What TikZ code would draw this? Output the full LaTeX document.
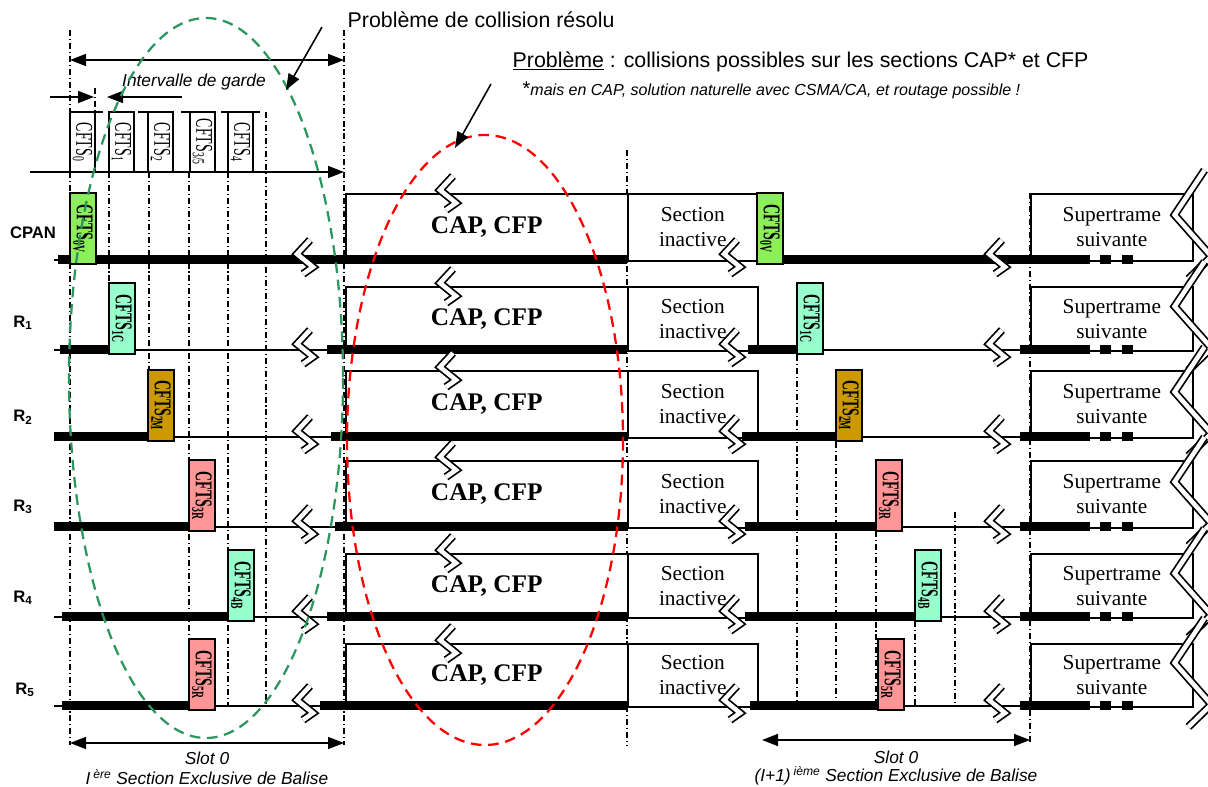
\documentclass[tikz,border=0pt]{standalone}
\usepackage{fontspec}
\setmainfont{Liberation Serif}
\setsansfont{Liberation Sans}
\usepackage{graphicx}
\usetikzlibrary{arrows.meta, positioning, calc}
\definecolor{cpgreen}{RGB}{140, 238, 90}
\definecolor{cpaqua}{RGB}{150, 255, 204}
\definecolor{cpgold}{RGB}{204, 153, 0}
\definecolor{cppink}{RGB}{255, 150, 150}
\definecolor{ovgreen}{RGB}{45, 150, 95}
\newcommand{\slotlab}[1]{\scalebox{0.58}[1]{CFTS\textsubscript{#1}}}

\begin{document}
\begin{tikzpicture}[
    x=0.75pt, y=-0.75pt,
    guide/.style={line width=0.9pt, dash pattern=on 4.5pt off 2.2pt on 0.8pt off 2.2pt},
    base/.style={line width=1pt},
    bar/.style={line width=6.75pt},
    phase/.style={draw, line width=1.2pt, fill=white, anchor=north west, inner sep=0pt,
                  align=center, font=\fontsize{16}{18.75}\selectfont},
    slotbox/.style={draw, line width=1pt, rotate=-90, inner sep=0pt,
                    minimum width=53.25pt, minimum height=19.5pt,
                    font=\bfseries\fontsize{18}{18}\selectfont},
    topbox/.style={draw, line width=1pt, fill=white, rotate=-90, inner sep=0pt,
                   minimum width=45pt, minimum height=18.75pt,
                   font=\fontsize{18}{18}\selectfont},
    rowlab/.style={font=\sffamily\bfseries\fontsize{12.5}{15}\selectfont},
    note/.style={font=\sffamily\itshape\fontsize{13}{16}\selectfont},
    title/.style={anchor=west, font=\sffamily\fontsize{16}{19}\selectfont},
    arr/.style={-{Triangle[length=12pt, width=9pt]}, line width=1.2pt},
    darr/.style={{Triangle[length=12pt, width=9pt]}-{Triangle[length=12pt, width=9pt]}, line width=1.2pt},
    oval/.style={line width=1.7pt, dash pattern=on 8pt off 5pt},
    brk/.pic={
        \draw[line width=6pt] (5,-17) -- (-8,-3) -- (8,10) -- (-2,17);
        \draw[white, line width=3.4pt] (5,-17) -- (-8,-3) -- (8,10) -- (-2,17);
    }
]
    \useasboundingbox (0,0) rectangle (1208,787);

    % guides
    \foreach \x/\a/\b in {70/30/745, 344/30/745, 95/88/112, 109/172/283, 149/172/369,
        189/172/706, 228/172/706, 266/112/706, 627/150/745, 797/355/706, 836/442/706,
        876/531/706, 915/621/706, 955/512/706, 1030/193/745}
        \draw[guide] (\x,\a) -- (\x,\b);

    % rows
    \foreach \y in {260, 350, 437, 527, 617, 706}
        \draw[base] (54,\y) -- (1192,\y);

    \foreach \y/\t/\n in {260/193/0, 350/286/1, 437/370/2, 527/460/3, 617/553/4, 706/643/5}{
        \node[phase, minimum width=211.5pt, minimum height={(\y-\t)*0.75pt},
              font=\bfseries\fontsize{19}{22}\selectfont] (cap\n) at (345,\t) {CAP, CFP};
        \node[phase, minimum width=97.5pt, minimum height={(\y-\t)*0.75pt}] (ina\n) at (627,\t) {Section\\inactive};
        \node[phase, minimum width=121.5pt, minimum height={(\y-\t)*0.75pt}] (sup\n) at (1030,\t) {Supertrame\\suivante};
    }

    % busy periods
    \draw[bar] (58,260) -- (627,260);
    \draw[bar] (60,350) -- (135,350);  \draw[bar] (327,350) -- (627,350);
    \draw[bar] (54,437) -- (174,437);  \draw[bar] (331,437) -- (627,437);
    \draw[bar] (54,527) -- (215,527);  \draw[bar] (335,527) -- (627,527);
    \draw[bar] (62,617) -- (254,617);  \draw[bar] (327,617) -- (627,617);
    \draw[bar] (62,706) -- (215,706);  \draw[bar] (320,706) -- (627,706);
    \draw[bar] (758,260) -- (1090,260);
    \draw[bar] (748,350) -- (823,350);
    \draw[bar] (742,437) -- (862,437);
    \draw[bar] (745,527) -- (903,527);
    \draw[bar] (745,617) -- (941,617);
    \draw[bar] (750,706) -- (904,706);
    \foreach \y in {350, 437, 527, 617, 706}
        \draw[bar] (1020,\y) -- (1090,\y);
    \foreach \y in {260, 350, 437, 527, 617, 706}{
        \draw[bar] (1100,\y) -- (1111,\y);
        \draw[bar] (1122,\y) -- (1133,\y);
    }

    % CFTS slots
    \foreach \x/\y/\c/\s/\n in {70/260/cpgreen/0V/l0, 109/350/cpaqua/1C/l1, 148/437/cpgold/2M/l2,
        189/527/cppink/3R/l3, 228/617/cpaqua/4B/l4, 189/706/cppink/5R/l5,
        757/260/cpgreen/0V/r0, 797/350/cpaqua/1C/r1, 836/437/cpgold/2M/r2,
        876/527/cppink/3R/r3, 915/617/cpaqua/4B/r4, 878/706/cppink/5R/r5}
        \node[slotbox, fill=\c] (cfts\n) at (\x+13,\y-31.5) {\slotlab{\s}};

    \foreach \x/\s/\n in {70/0/0, 109/1/1, 148/2/2, 190/{3/5}/3, 228/4/4}
        \node[topbox] (top\n) at (\x+12.5,142) {\slotlab{\s}};
    \foreach \a/\b in {95/103, 138/148, 181/190, 221/228, 254/260}
        \draw[line width=1pt] (\a,112) -- (\b,112);

    % breaks
    \foreach \y/\t in {260/193, 350/286, 437/370, 527/460, 617/553, 706/643}{
        \pic at (305,\y-3) {brk};
        \pic at (448,\t) {brk};
        \pic at (732,\y-3) {brk};
        \pic at (997,\y-3) {brk};
        \pic[xscale=2.3, yscale=3.2] at (1193,\t/2+\y/2-2) {brk};
    }

    % row labels
    \node[rowlab] (cpan) at (33,233) {CPAN};
    \node[rowlab] (r1) at (23,323) {R\textsubscript{1}};
    \node[rowlab] (r2) at (23,417) {R\textsubscript{2}};
    \node[rowlab] (r3) at (23,507) {R\textsubscript{3}};
    \node[rowlab] (r4) at (23,598) {R\textsubscript{4}};
    \node[rowlab] (r5) at (25,690) {R\textsubscript{5}};

    % time axis and intervals
    \coordinate (axis0) at (30,172);
    \coordinate (axis1) at (344,172);
    \draw[arr] (axis0) -- (axis1);
    \coordinate (span0) at (70,60);
    \coordinate (span1) at (344,60);
    \draw[darr] (span0) -- (span1);
    \coordinate (garde0) at (50,97);
    \coordinate (garde1) at (94,97);
    \coordinate (garde2) at (182,97);
    \coordinate (garde3) at (107,97);
    \draw[arr] (garde0) -- (garde1);
    \draw[arr] (garde2) -- (garde3);
    \node[note] (garde) at (194,82) {Intervalle de garde};

    \coordinate (slotA0) at (70,743);
    \coordinate (slotA1) at (344,743);
    \draw[darr] (slotA0) -- (slotA1);
    \node[note] (slotA) at (207,758) {Slot 0};
    \node[note] (exclA) at (207,777) {I\,\textsuperscript{ère} Section Exclusive de Balise};
    \coordinate (slotB0) at (762,740);
    \coordinate (slotB1) at (1030,740);
    \draw[darr] (slotB0) -- (slotB1);
    \node[note] (slotB) at (896,757) {Slot 0};
    \node[note] (exclB) at (896,776) {(I+1)\,\textsuperscript{ième} Section Exclusive de Balise};

    % collision zones
    \draw[oval, ovgreen] (206,378) ellipse [x radius=137, y radius=360];
    \draw[oval, red] (485,440) ellipse [x radius=138, y radius=305];

    \node[title] (resolu) at (343,20) {Problème de collision résolu};
    \coordinate (resolu0) at (322,27);
    \coordinate (resolu1) at (286,90);
    \draw[arr] (resolu0) -- (resolu1);
    \node[title] (probleme) at (508,62) {\underline{Problème} : collisions possibles sur les sections CAP* et CFP};
    \node[title, font=\sffamily\itshape\fontsize{12}{14}\selectfont] (remarque) at (518,90)
        {{\upshape\fontsize{15}{15}\selectfont *}mais en CAP, solution naturelle avec CSMA/CA, et routage possible !};
    \coordinate (probleme0) at (491,84);
    \coordinate (probleme1) at (455,148);
    \draw[arr] (probleme0) -- (probleme1);
\end{tikzpicture}
\end{document}
